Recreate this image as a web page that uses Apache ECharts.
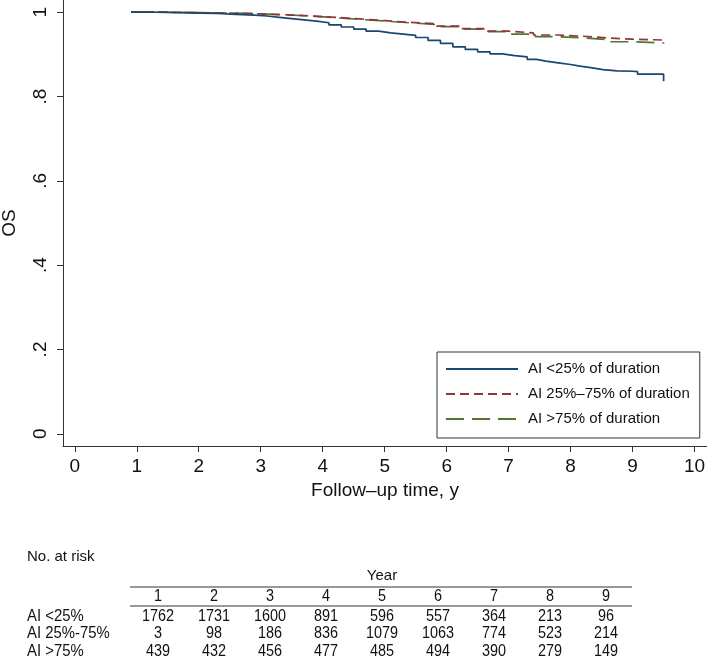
<!DOCTYPE html>
<html>
<head>
<meta charset="utf-8">
<script src="https://cdn.jsdelivr.net/npm/echarts@6/dist/echarts.min.js"></script>
<style>
html,body{margin:0;padding:0;background:#fff;}
#chart{width:707px;height:658px;}
</style>
</head>
<body>
<div id="chart"></div>
<script>
// ---- Data ----
var seriesNames = ['AI <25% of duration', 'AI 25%\u201375% of duration', 'AI >75% of duration'];
var blueCurve = [
  [0.91,1],[1.3,0.999],[1.7,0.998],[2.0,0.997],[2.3,0.995],[2.6,0.993],[2.9,0.991],
  [3.1,0.988],[3.3,0.985],[3.5,0.982],[3.7,0.979],[3.9,0.975],[4.1,0.970],[4.3,0.965],
  [4.5,0.960],[4.7,0.955],[4.9,0.951],[5.1,0.948],[5.3,0.945],[5.5,0.940],[5.7,0.933],
  [5.9,0.926],[6.1,0.918],[6.3,0.912],[6.5,0.906],[6.7,0.901],[6.9,0.897],[7.1,0.894],
  [7.3,0.888],[7.45,0.884],[7.6,0.880],[7.8,0.876],[8.0,0.872],[8.15,0.868],[8.35,0.864],
  [8.52,0.861],[8.75,0.860],[9.0,0.859],[9.08,0.853],[9.5,0.853],[9.5,0.836]
];
var redCurve = [
  [0.91,1],[1.5,0.999],[2.0,0.998],[2.5,0.996],[3.0,0.994],[3.4,0.991],[3.8,0.988],
  [4.2,0.984],[4.6,0.980],[5.0,0.976],[5.4,0.973],[5.8,0.967],[6.2,0.961],[6.6,0.955],
  [7.0,0.951],[7.4,0.946],[7.8,0.943],[8.2,0.939],[8.6,0.936],[9.0,0.934],[9.5,0.931]
];
var greenCurve = [
  [0.91,1],[1.5,0.999],[2.0,0.998],[2.5,0.996],[3.0,0.994],[3.4,0.991],[3.8,0.987],
  [4.2,0.983],[4.6,0.979],[5.0,0.975],[5.4,0.971],[5.8,0.966],[6.2,0.960],[6.6,0.954],
  [7.0,0.948],[7.4,0.942],[7.8,0.939],[8.2,0.935],[8.6,0.930],[9.0,0.927],[9.5,0.925]
];
var xTicks = [0,1,2,3,4,5,6,7,8,9,10];
var yTicks = [0,0.2,0.4,0.6,0.8,1];
var yTickLabels = ['0','.2','.4','.6','.8','1'];
var riskYears = [1,2,3,4,5,6,7,8,9];
var riskLabels = ['AI <25%', 'AI 25%-75%', 'AI >75%'];
var riskLt25 = [1762,1731,1600,891,596,557,364,213,96];
var risk25to75 = [3,98,186,836,1079,1063,774,523,214];
var riskGt75 = [439,432,456,477,485,494,390,279,149];

// ---- Chart ----
var FONT = 'Liberation Sans, Arial, Helvetica, sans-serif';
var colors = ['#1a476f', '#90353b', '#55752f'];
var chart = echarts.init(document.getElementById('chart'), null, {renderer:'canvas'});

var graphics = [];
function txt(x, y, s, align, size, sx) {
  graphics.push({type:'text', x:x, y:y, scaleX:sx||1, silent:true,
    style:{text:s, fill:'#111', font: (size||15) + 'px ' + FONT, textAlign:align||'left', textVerticalAlign:'middle'}});
}
txt(27, 557, 'No. at risk', 'left', 15);
txt(382, 576, 'Year', 'center', 15);
graphics.push({type:'line', silent:true, shape:{x1:130,y1:587,x2:632,y2:587}, style:{stroke:'#333', lineWidth:1}});
graphics.push({type:'line', silent:true, shape:{x1:130,y1:606,x2:632,y2:606}, style:{stroke:'#333', lineWidth:1}});
var colX = function(i){ return 158 + 56*i; };
riskYears.forEach(function(y,i){ txt(colX(i), 597, String(y), 'center', 16, 0.9); });
var rowsY = [616.5, 634, 651.5];
var rows = [riskLt25, risk25to75, riskGt75];
rows.forEach(function(r, ri){
  txt(27, rowsY[ri], riskLabels[ri], 'left', 16, 0.93);
  r.forEach(function(v,i){ txt(colX(i), rowsY[ri], String(v), 'center', 16, 0.9); });
});

var option = {
  animation:false,
  backgroundColor:'#fff',
  textStyle:{fontFamily:FONT},
  grid:{left:63, right:0, top:0, bottom:212, containLabel:false, outerBoundsMode:'none'},
  xAxis:{
    type:'value', min:-0.19, max:10.2,
    name:'Follow\u2013up time, y', nameLocation:'middle', nameGap:32,
    nameTextStyle:{color:'#111', fontSize:19, fontFamily:FONT},
    axisLine:{show:true, onZero:false, lineStyle:{color:'#333', width:1}},
    axisTick:{show:true, length:6, customValues:xTicks, lineStyle:{color:'#333'}},
    axisLabel:{customValues:xTicks, color:'#111', fontSize:19, margin:11, fontFamily:FONT},
    splitLine:{show:false}
  },
  yAxis:{
    type:'value', min:-0.029, max:1.029,
    name:'OS', nameLocation:'middle', nameGap:44, nameRotate:90,
    nameTextStyle:{color:'#111', fontSize:19, fontFamily:FONT},
    axisLine:{show:true, onZero:false, lineStyle:{color:'#333', width:1}},
    axisTick:{show:true, length:6, customValues:yTicks, lineStyle:{color:'#333'}},
    axisLabel:{customValues:yTicks, rotate:90, color:'#111', fontSize:19, margin:13, fontFamily:FONT,
      formatter:function(v){ var i = yTicks.findIndex(function(t){return Math.abs(t-v)<1e-9;}); return i>=0?yTickLabels[i]:''; }},
    splitLine:{show:false}
  },
  legend:{
    show:true, orient:'vertical', left:437, top:352,
    data:seriesNames,
    itemWidth:72, itemHeight:16, itemGap:9,
    padding:[9,10,11,8],
    borderColor:'#333', borderWidth:1, backgroundColor:'#fff',
    itemStyle:{opacity:0, borderWidth:0},
    textStyle:{color:'#111', fontSize:15, fontFamily:FONT, lineHeight:16, padding:[0,0,0,5]},
    selectedMode:false
  },
  series:[
    {name:seriesNames[0], type:'line', step:'end', data:blueCurve, symbol:'none', showSymbol:false,
     lineStyle:{color:colors[0], width:1.7, type:'solid'}, itemStyle:{color:colors[0]}, z:3},
    {name:seriesNames[1], type:'line', step:'end', data:redCurve, symbol:'none', showSymbol:false,
     lineStyle:{color:colors[1], width:1.7, type:[9,5]}, itemStyle:{color:colors[1]}, z:2},
    {name:seriesNames[2], type:'line', step:'end', data:greenCurve, symbol:'none', showSymbol:false,
     lineStyle:{color:colors[2], width:1.7, type:[18,8]}, itemStyle:{color:colors[2]}, z:1}
  ],
  graphic:graphics
};
chart.setOption(option);
</script>
</body>
</html>
